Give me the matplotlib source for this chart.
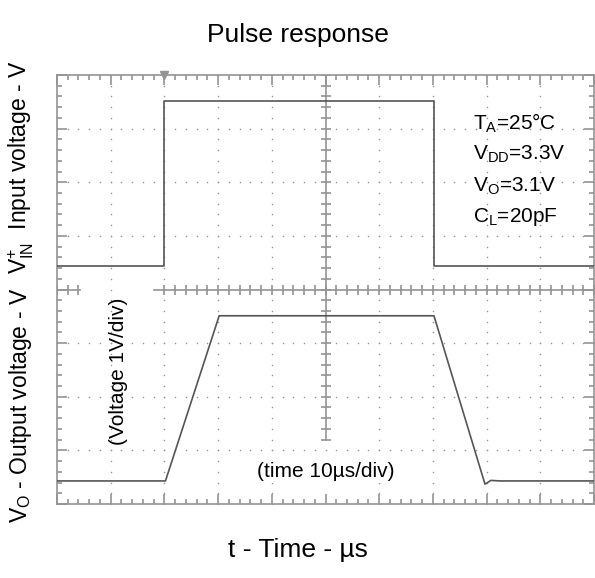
import matplotlib
matplotlib.use("Agg")
import matplotlib.pyplot as plt
import numpy as np

plt.rcParams['font.family'] = ['Liberation Sans', 'DejaVu Sans']
plt.rcParams['mathtext.fontset'] = 'custom'
plt.rcParams['mathtext.rm'] = 'Liberation Sans'
plt.rcParams['mathtext.it'] = 'Liberation Sans'

# time in us (10 us/div), levels in screen divisions (1 V/div)
t_in = [0, 20, 20, 70.2, 70.2, 100]
v_in = [4.44, 4.44, 7.52, 7.52, 4.44, 4.44]
t_out = [0, 20.2, 30.2, 70.2, 79.7, 80.8, 82.5, 100]
v_out = [0.43, 0.43, 3.51, 3.51, 0.37, 0.44, 0.43, 0.43]
trigger_t = 20

conditions = [r'T$_\mathregular{A}$=25°C', r'V$_\mathregular{DD}$=3.3V',
              r'V$_\mathregular{O}$=3.1V', r'C$_\mathregular{L}$=20pF']

trace = '#555555'
frame = '#939393'

fig = plt.figure(figsize=(5.95, 5.78), dpi=100)
ax = fig.add_axes([57/595, 74/578, 537/595, 429/578])
ax.set_xlim(0, 100)
ax.set_ylim(0, 8)

# scope graticule: dotted grid
minor_x = np.arange(0, 100.01, 2)
minor_y = np.arange(0, 8.001, 0.2)
for gx in range(10, 100, 10):
    if gx == 50:
        continue
    ax.scatter(np.full(minor_y.size, gx), minor_y, s=1.2, color=frame, lw=0, zorder=1)
for gy in range(1, 8):
    if gy == 4:
        continue
    ax.scatter(minor_x, np.full(minor_x.size, gy), s=1.2, color=frame, lw=0, zorder=1)

# centre cross with ticks
ax.plot([0, 4.3], [4, 4], color=frame, lw=1.2, zorder=2)
ax.plot([18, 100], [4, 4], color=frame, lw=1.2, zorder=2)
ax.plot([50, 50], [1.2, 8], color=frame, lw=1.2, zorder=2)
cx = minor_x[(minor_x < 4.3) | (minor_x > 18)]
ax.plot(cx, np.full(cx.size, 4), ls='none', marker='|', ms=7, mew=1.2, color=frame, zorder=2)
cy = minor_y[minor_y > 1.2]
ax.plot(np.full(cy.size, 50), cy, ls='none', marker='_', ms=7, mew=1.2, color=frame, zorder=2)

# traces
ax.plot(t_in, v_in, color=trace, lw=1.2, zorder=3)
ax.plot(t_out, v_out, color=trace, lw=1.2, zorder=3)
ax.plot([trigger_t], [8], marker='v', ms=6, color=frame, clip_on=False, zorder=4)

ax.set_xticks(np.arange(0, 101, 10))
ax.set_xticks(minor_x, minor=True)
ax.set_yticks(np.arange(0, 9, 1))
ax.set_yticks(minor_y, minor=True)
ax.tick_params(which='both', direction='in', top=True, right=True,
               labelbottom=False, labelleft=False, color=frame, width=1.2)
ax.tick_params(which='major', length=7)
ax.tick_params(which='minor', length=3.5)
for s in ax.spines.values():
    s.set_color(frame)
    s.set_linewidth(1.2)

ax.text(0.114, 0.480, '(Voltage 1V/div)', transform=ax.transAxes, rotation=90,
        ha='center', va='top', fontsize=15)
ax.text(0.5, 0.075, '(time 10µs/div)', transform=ax.transAxes, ha='center',
        va='center', fontsize=15, bbox=dict(fc='white', ec='none', pad=1))
for i, c in enumerate(conditions):
    fig.text(473/595, 1 - (123 + 31.5*i)/578, c, ha='left', va='center', fontsize=15)

fig.text(0.5, 1 - 35/578, 'Pulse response', ha='center', va='center', fontsize=19)
fig.text(0.5, 1 - 550/578, 't - Time - µs', ha='center', va='center', fontsize=19)
fig.text(21/595, 1 - 167/578, r'V$_\mathregular{IN}^\mathregular{+}$  Input voltage - V',
         rotation=90, ha='center', va='center', fontsize=16.5)
fig.text(21/595, 1 - 405/578, r'V$_\mathregular{O}$ - Output voltage - V',
         rotation=90, ha='center', va='center', fontsize=16.5)

fig.savefig('out.png', dpi=100)
